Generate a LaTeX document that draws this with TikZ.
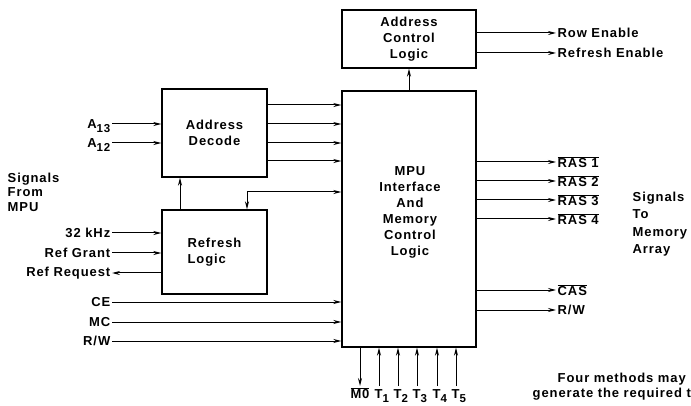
\documentclass[tikz,border=0pt]{standalone}
\usepackage{fontspec}
\setmainfont{Liberation Sans}[LetterSpace=7]
\usetikzlibrary{arrows.meta}
\newcommand{\sbx}[1]{\raisebox{-4pt}{\fontsize{11.5}{11.5}\selectfont #1}}
\newcommand{\ovl}[1]{$\overline{\hbox{#1}}$}
\begin{document}
\begin{tikzpicture}[x=1pt,y=-1pt,
  every node/.style={font=\bfseries\fontsize{13}{16}\selectfont, inner sep=1.5pt},
  box/.style={draw, line width=1.4pt, inner sep=0pt},
  arr/.style={line width=1pt, -{Stealth[length=8pt,width=4pt]}},
  barr/.style={line width=1pt, {Stealth[length=8pt,width=4pt]}-{Stealth[length=8pt,width=4pt]}}]
\useasboundingbox (0,0) rectangle (691,406);
\clip (0,0) rectangle (691,406);
% boxes
\node[box, minimum width=134pt, minimum height=58pt, align=center] (acl) at (409,39) {Address\\Control\\Logic};
\node[box, minimum width=134pt, minimum height=256pt] (mpu) at (409,219) {};
\node[align=center] (mput) at (410,212) {MPU\\Interface\\And\\Memory\\Control\\Logic};
\node[box, minimum width=105pt, minimum height=88pt, align=center] (ad) at (214.5,133) {Address\\Decode};
\node[box, minimum width=105pt, minimum height=84pt, align=left] (rl) at (214.5,252) {Refresh\\Logic};
% left labels
\node[anchor=east] (a13) at (112,126) {A\sbx{13}};
\node[anchor=east] (a12) at (112,145) {A\sbx{12}};
\node[anchor=north west, align=left, font=\bfseries\fontsize{13}{14.5}\selectfont] (sfm) at (6,171) {Signals\\From\\MPU};
\node[anchor=east] (khz) at (112,233) {32 kHz};
\node[anchor=east] (rg) at (112,253) {Ref Grant};
\node[anchor=east] (rr) at (112,273) {Ref Request};
\node[anchor=east] (ce) at (112,302) {CE};
\node[anchor=east] (mc) at (112,322) {MC};
\node[anchor=east] (rw) at (112,341) {R/W};
\draw[arr] (a13.east |- 0,124) -- (ad.west |- 0,124);
\draw[arr] (a12.east |- 0,143) -- (ad.west |- 0,143);
\draw[arr] (khz.east) -- (rl.west |- khz.east);
\draw[arr] (rg.east) -- (rl.west |- rg.east);
\draw[arr] (rl.west |- rr.east) -- (rr.east);
\draw[arr] (ce.east) -- (mpu.west |- ce.east);
\draw[arr] (mc.east) -- (mpu.west |- mc.east);
\draw[arr] (rw.east) -- (mpu.west |- rw.east);
% decode to mpu
\foreach \yy in {105,124,143,161}{
  \draw[arr] (ad.east |- 0,\yy) -- (mpu.west |- 0,\yy);
}
\draw[arr] (rl.north -| 180,0) -- (ad.south -| 180,0);
\draw[barr] (mpu.west |- 0,192) -- (247,192) -- (rl.north -| 247,0);
\draw[arr] (mpu.north -| acl.south) -- (acl.south);
% top right outputs
\node[anchor=west] (row) at (556,33) {Row Enable};
\node[anchor=west] (ref) at (556,53) {Refresh Enable};
\draw[arr] (acl.east |- row.west) -- (row.west);
\draw[arr] (acl.east |- ref.west) -- (ref.west);
% RAS outputs
\node[anchor=west] (r1) at (556,162) {\ovl{RAS 1}};
\node[anchor=west] (r2) at (556,181) {\ovl{RAS 2}};
\node[anchor=west] (r3) at (556,200) {\ovl{RAS 3}};
\node[anchor=west] (r4) at (556,219) {\ovl{RAS 4}};
\node[anchor=west] (cas) at (556,290) {\ovl{CAS}};
\node[anchor=west] (rw2) at (556,310) {R/W};
\foreach \n in {r1,r2,r3,r4,cas,rw2}{
  \draw[arr] (mpu.east |- \n.west) -- (\n.west);
}
\node[anchor=north west, align=left, font=\bfseries\fontsize{13}{17.5}\selectfont] (stm) at (631,190) {Signals\\To\\Memory\\Array};
% bottom
\node[anchor=north] (m0) at (360,386) {\ovl{M0}};
\draw[arr] (mpu.south -| m0.north) -- (m0.north);
\foreach \xx/\k in {379/1,398/2,417/3,437/4,456/5}{
  \coordinate (t\k) at (\xx,386);
  \node[anchor=north west, inner sep=0pt] (tl\k) at (\xx-4.5,389) {T\sbx{\k}};
  \draw[arr] (t\k) -- (mpu.south -| t\k);
}
\node[anchor=west] (fm) at (556,379) {Four methods may};
\node[anchor=west] (gr) at (531,394) {generate the required t};
\end{tikzpicture}
\end{document}
